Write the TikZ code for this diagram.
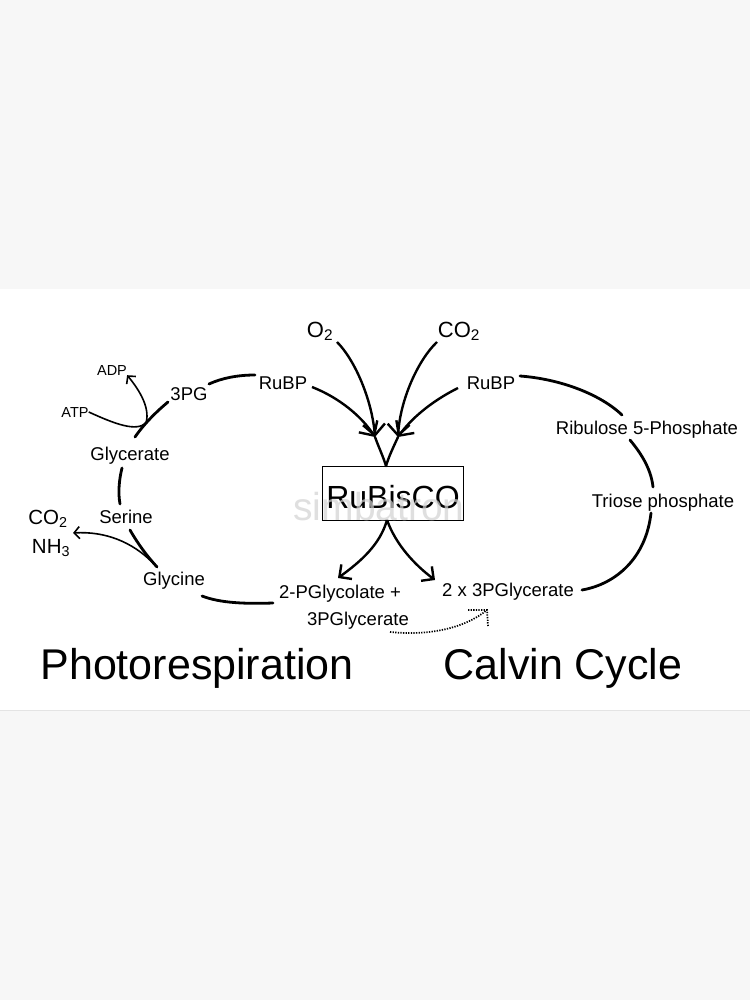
\documentclass[tikz,border=0pt]{standalone}
\usepackage{fontspec}
\setmainfont{Liberation Sans}
\usetikzlibrary{arrows.meta}
\definecolor{bggray}{HTML}{F7F7F7}
\definecolor{edgegray}{HTML}{E4E4E4}
\begin{document}
\begin{tikzpicture}[x=1pt,y=-1pt,
  lbl/.style={inner sep=0pt, anchor=base, font=\fontsize{18.5}{22}\selectfont},
  sml/.style={inner sep=0pt, anchor=base, font=\fontsize{14.5}{17}\selectfont},
  gas/.style={inner sep=0pt, anchor=base, font=\fontsize{22}{26}\selectfont},
  gasl/.style={inner sep=0pt, anchor=base, font=\fontsize{20.5}{24}\selectfont},
  ttl/.style={inner sep=0pt, anchor=base, font=\fontsize{43}{50}\selectfont},
  cyc/.style={line width=2.8pt, line cap=round},
  rxnline/.style={line width=2.4pt, line cap=round},
  rxn/.style={line width=2.4pt, -{Straight Barb[length=9pt,width=18pt]}},
  rxnbig/.style={line width=2.4pt, -{Straight Barb[length=11pt,width=22pt]}},
  thinarrow/.style={line width=1.6pt, -{Straight Barb[length=5.5pt,width=12pt]}},
  dotline/.style={line width=1.7pt, dash pattern=on 1.3pt off 1.3pt}
]
\useasboundingbox (0,0) rectangle (750,1000);
\fill[bggray] (0,0) rectangle (750,1000);
\fill[white] (0,289) rectangle (750,710);
\draw[edgegray, line width=1pt] (0,710.5) -- (750,710.5);

% labels
\node[gas] (o2) at (320,337) {O\textsubscript{2}};
\node[gas] (co2) at (459,337) {CO\textsubscript{2}};
\node[lbl] (rubpL) at (283,389) {RuBP};
\node[lbl] (rubpR) at (491,389) {RuBP};
\node[lbl] (pg3) at (189,400) {3PG};
\node[sml] (adp) at (112,375) {ADP};
\node[sml] (atp) at (75,417) {ATP};
\node[lbl] (glycerate) at (130,460) {Glycerate};
\node[lbl] (serine) at (126,523) {Serine};
\node[gasl] (co2L) at (48,524) {CO\textsubscript{2}};
\node[gasl] (nh3) at (51,553) {NH\textsubscript{3}};
\node[lbl] (glycine) at (174,585) {Glycine};
\node[lbl] (pglyc) at (340,598) {2-PGlycolate +};
\node[lbl] (pgly3) at (358,625) {3PGlycerate};
\node[lbl] (two3pg) at (508,596) {2 x 3PGlycerate};
\node[lbl] (ribulose) at (647,434) {Ribulose 5-Phosphate};
\node[lbl] (triose) at (663,507) {Triose phosphate};
\node[draw, line width=1pt, inner sep=0pt, text height=42pt, text depth=12pt,
      minimum width=141pt, font=\fontsize{32}{38}\selectfont, anchor=base] (rubisco) at (393,508) {RuBisCO};
\node[inner sep=0pt, anchor=base, font=\fontsize{39}{44}\selectfont, text=gray!35, opacity=0.7] (wm) at (379,520) {simbatron};
\node[ttl] (photo) at (197,679) {Photorespiration};
\node[ttl] (calvin) at (563,679) {Calvin Cycle};

% named coordinates
\coordinate (mL) at (375,437);
\coordinate (mR) at (398,437);
\coordinate (rtop) at (386,466);
\coordinate (rbot) at (387,520);
\coordinate (dtip) at (487,610);

% photorespiration cycle
\draw[cyc] (209,384) .. controls (222,378) and (238,375) .. (255,375);
\draw[cyc] (168,402) .. controls (156,412) and (144,424) .. (135,437);
\draw[cyc] (122,468) .. controls (119,480) and (118,493) .. (120,504);
\draw[cyc] (130,530) .. controls (138,544) and (147,556) .. (157,567);
\draw[cyc] (202,596) .. controls (220,603) and (245,604) .. (273,603);
\draw[thinarrow] (atp.east) .. controls (115,424) and (136,432) .. (146,423) .. controls (151,406) and (136,386) .. (adp.south east);
\draw[thinarrow] (152,562) .. controls (132,542) and (105,531) .. (73,533);

% calvin cycle
\draw[cyc] (520,376) .. controls (560,379) and (600,394) .. (622,415);
\draw[cyc] (630,440) .. controls (640,452) and (651,468) .. (653,487);
\draw[cyc] (651,513) .. controls (646,558) and (616,584) .. (582,590);

% into RuBisCO
\draw[rxnbig] (337,342) .. controls (355,360) and (372,400) .. (mL);
\draw[rxnbig] (312,387) .. controls (340,398) and (362,417) .. (mL);
\draw[rxnbig] (437,342) .. controls (418,360) and (400,400) .. (mR);
\draw[rxnbig] (458,388) .. controls (430,402) and (410,420) .. (mR);
\draw[rxnline] (mL) .. controls (379,448) and (383,456) .. (rtop);
\draw[rxnline] (mR) .. controls (393,448) and (389,456) .. (rtop);

% out of RuBisCO
\draw[rxn] (rbot) .. controls (380,545) and (360,562) .. (338,578);
\draw[rxn] (rbot) .. controls (396,545) and (415,565) .. (435,580);

% dotted transfer
\draw[dotline] (390,632) .. controls (430,636) and (465,628) .. (dtip);
\draw[dotline] (468,610) -- (dtip) -- (488,626);
\end{tikzpicture}
\end{document}
